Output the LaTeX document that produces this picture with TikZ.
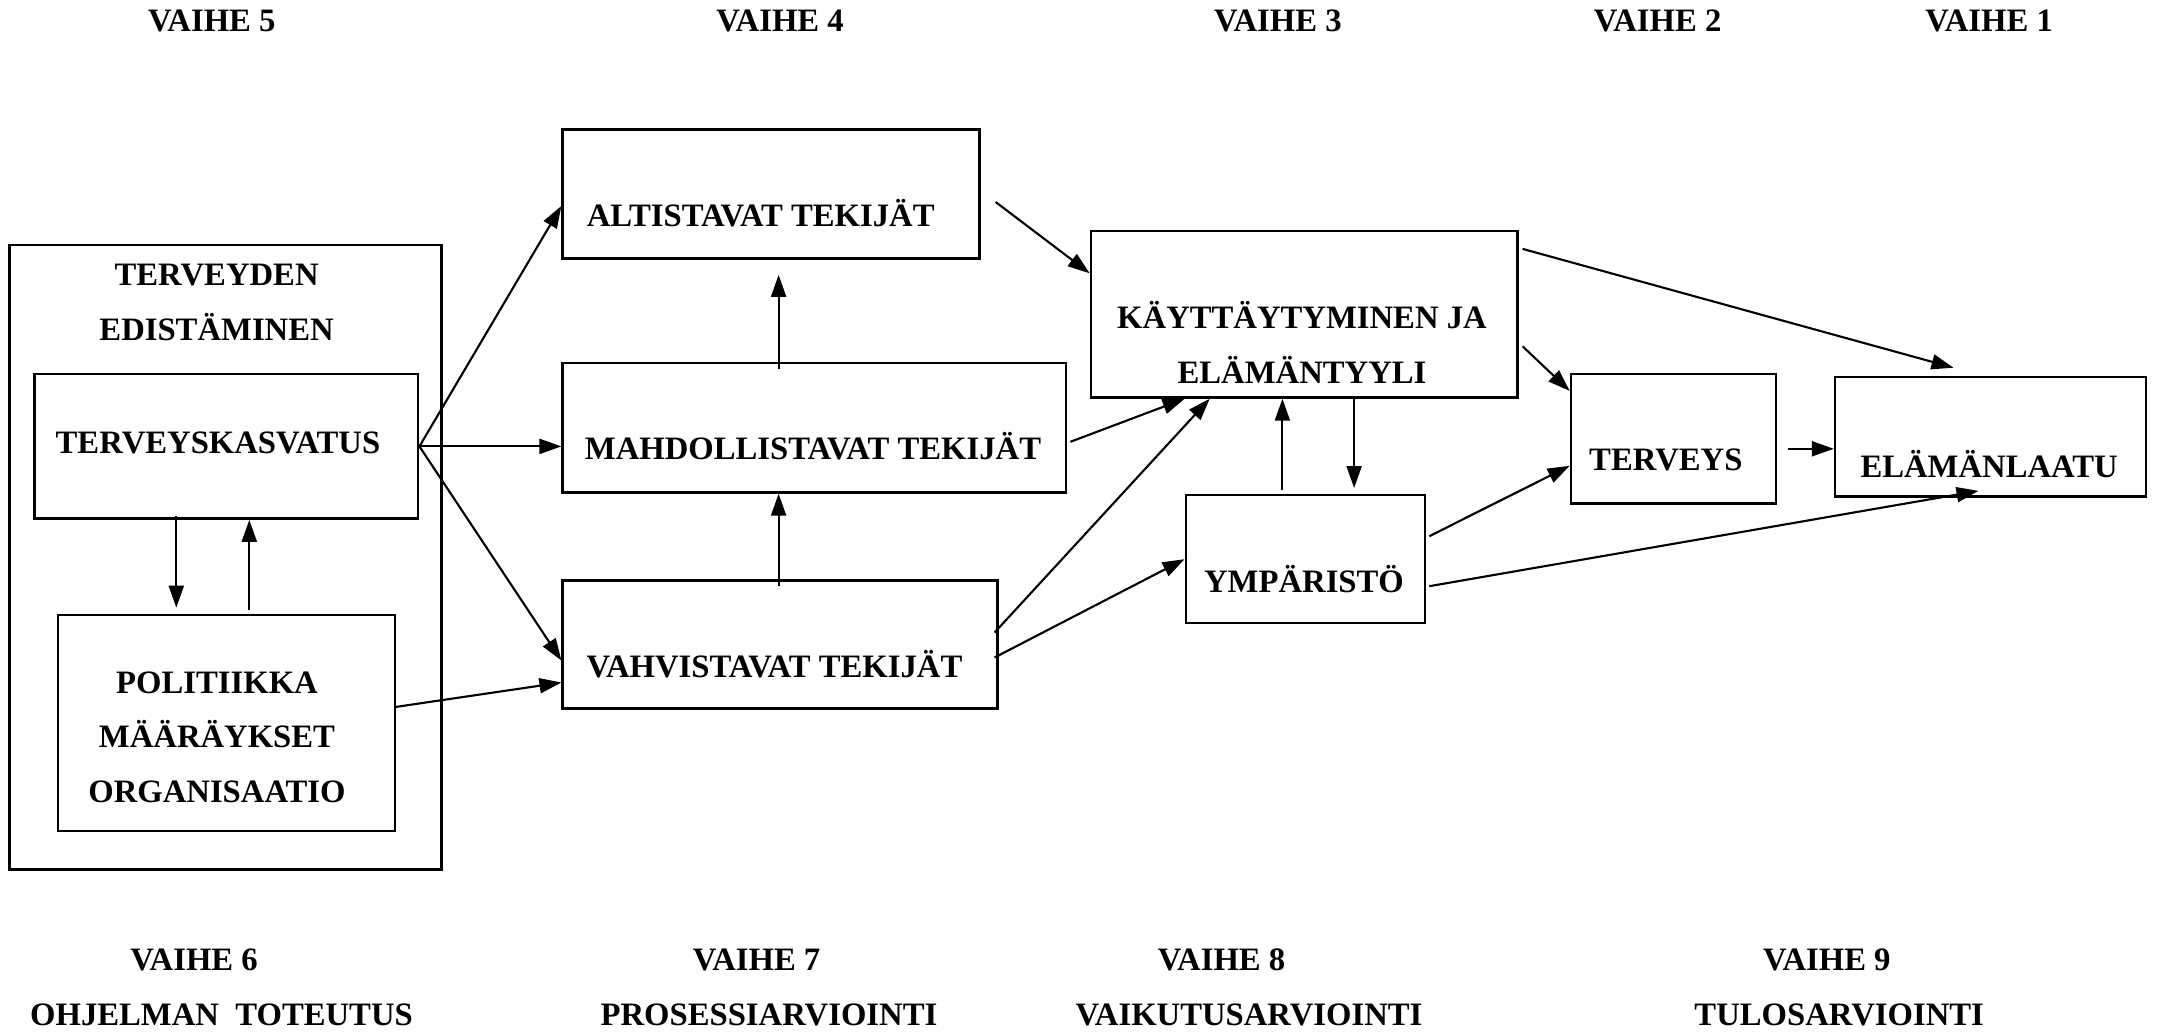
\documentclass[tikz,border=0pt]{standalone}
\usepackage{fontspec}
\setmainfont{Liberation Serif}
\usetikzlibrary{positioning,calc,arrows.meta}

\begin{document}
\begin{tikzpicture}[
  box/.style={draw=black, line width=0.7pt, inner sep=0pt},
  txt/.style={inner sep=0pt, font=\fontsize{9.3}{15.6}\selectfont\bfseries, align=center},
  arr/.style={line width=0.6pt, -{Triangle[length=2.2mm,width=1.5mm]}}
]
\useasboundingbox (0,0) rectangle (21.57,-10.34);

% boxes
\node[box, minimum width=43.2mm, minimum height=62.45mm] (edist) at (2.256,-5.571) {};
\node[box, minimum width=38.38mm, minimum height=14.44mm] (kasv) at (2.263,-4.464) {};
\node[box, minimum width=33.7mm, minimum height=21.6mm] (pol) at (2.263,-7.229) {};
\node[box, minimum width=41.68mm, minimum height=12.93mm] (alt) at (7.71,-1.94) {};
\node[box, minimum width=50.35mm, minimum height=12.93mm] (mahd) at (8.144,-4.278) {};
\node[box, minimum width=43.47mm, minimum height=12.79mm] (vahv) at (7.80,-6.445) {};
\node[box, minimum width=42.64mm, minimum height=16.64mm] (kays) at (13.041,-3.143) {};
\node[box, minimum width=23.93mm, minimum height=12.79mm] (ymp) at (13.054,-5.592) {};
\node[box, minimum width=20.5mm, minimum height=12.93mm] (terv) at (16.734,-4.388) {};
\node[box, minimum width=31.09mm, minimum height=11.97mm] (ela) at (19.905,-4.368) {};

% texts
\node[txt] (edistT) at (2.166,-3.026) {TERVEYDEN\\EDISTÄMINEN};
\node[txt] (kasvT) at (2.18,-4.429) {TERVEYSKASVATUS};
\node[txt] (polT) at (2.17,-7.373) {POLITIIKKA\\MÄÄRÄYKSET\\ORGANISAATIO};
\node[txt] (altT) at (7.607,-2.132) {ALTISTAVAT TEKIJÄT};
\node[txt] (mahdT) at (8.13,-4.457) {MAHDOLLISTAVAT TEKIJÄT};
\node[txt] (vahvT) at (7.745,-6.644) {VAHVISTAVAT TEKIJÄT};
\node[txt] (kaysT) at (13.02,-3.425) {KÄYTTÄYTYMINEN JA\\ELÄMÄNTYYLI};
\node[txt] (ympT) at (13.04,-5.791) {YMPÄRISTÖ};
\node[txt] (tervT) at (16.658,-4.595) {TERVEYS};
\node[txt] (elaT) at (19.891,-4.636) {ELÄMÄNLAATU};

% phases
\node[txt] (v5) at (2.118,-0.206) {VAIHE 5};
\node[txt] (v4) at (7.8,-0.206) {VAIHE 4};
\node[txt] (v3) at (12.779,-0.206) {VAIHE 3};
\node[txt] (v2) at (16.576,-0.206) {VAIHE 2};
\node[txt] (v1) at (19.891,-0.206) {VAIHE 1};
\node[txt] (v6) at (1.94,-9.602) {VAIHE 6};
\node[txt] (v7) at (7.566,-9.602) {VAIHE 7};
\node[txt] (v8) at (12.215,-9.602) {VAIHE 8};
\node[txt] (v9) at (18.268,-9.602) {VAIHE 9};
\node[txt] (v6b) at (2.215,-10.152) {OHJELMAN\ \ TOTEUTUS};
\node[txt] (v7b) at (7.69,-10.152) {PROSESSIARVIOINTI};
\node[txt] (v8b) at (12.49,-10.152) {VAIKUTUSARVIOINTI};
\node[txt] (v9b) at (18.392,-10.152) {TULOSARVIOINTI};

% free ends
\coordinate (kasvdn) at ($(kasv.south)+(-0.5,0.04)$);
\coordinate (polup) at ($(pol.north)+(0.23,0.04)$);
\coordinate (vahvup) at ($(vahv.north)+(-0.014,-0.07)$);
\coordinate (mahdup) at ($(vahvup |- mahd.north)+(0,-0.07)$);
\coordinate (ympup) at ($(ymp.north)+(-0.23,0.04)$);
\coordinate (kaysdn) at ($(kays.south)+(0.5,0)$);
\coordinate (tervout) at ($(terv.east)+(0.11,-0.1)$);

% connectors
\draw[arr] (kasv.east) -- ([yshift=-1.2mm]alt.west);
\draw[arr] (kasv.east) -- (kasv.east -| mahd.west);
\draw[arr] (kasv.east) -- ([yshift=-1.6mm]vahv.west);
\draw[arr] ([yshift=1.6mm]pol.east) -- ([yshift=-3.8mm]vahv.west);
\draw[arr] (kasvdn) -- ($(kasvdn |- pol.north)+(0,0.06)$);
\draw[arr] (polup) -- (polup |- kasv.south);
\draw[arr] (vahvup) -- (vahvup |- mahd.south);
\draw[arr] (mahdup) -- ($(mahdup |- alt.south)+(0,-0.15)$);
\draw[arr] ($(alt.east)+(0.15,-0.08)$) -- ($(kays.west)+(0,0.41)$);
\draw[arr] ($(mahd.east)+(0.03,-0.14)$) -- ($(kays.south west)+(0.95,0)$);
\draw[arr] ($(vahv.east)+(-0.04,0.12)$) -- ($(kays.south west)+(1.2,0)$);
\draw[arr] ($(vahv.east)+(-0.04,-0.13)$) -- (ymp.west);
\draw[arr] (ympup) -- (ympup |- kays.south);
\draw[arr] (kaysdn) -- ($(kaysdn |- ymp.north)+(0,0.06)$);
\draw[arr] ($(kays.north east)+(0.04,-0.19)$) -- ($(ela.north)+(-0.37,0.08)$);
\draw[arr] ($(kays.east)+(0.04,-0.32)$) -- ($(terv.north west)+(0,-0.18)$);
\draw[arr] ($(ymp.east)+(0.03,0.23)$) -- ($(terv.west)+(0,-0.27)$);
\draw[arr] ($(ymp.east)+(0.03,-0.27)$) -- ($(ela.south)+(-0.12,0.07)$);
\draw[arr] (tervout) -- (tervout -| ela.west);
\end{tikzpicture}
\end{document}
